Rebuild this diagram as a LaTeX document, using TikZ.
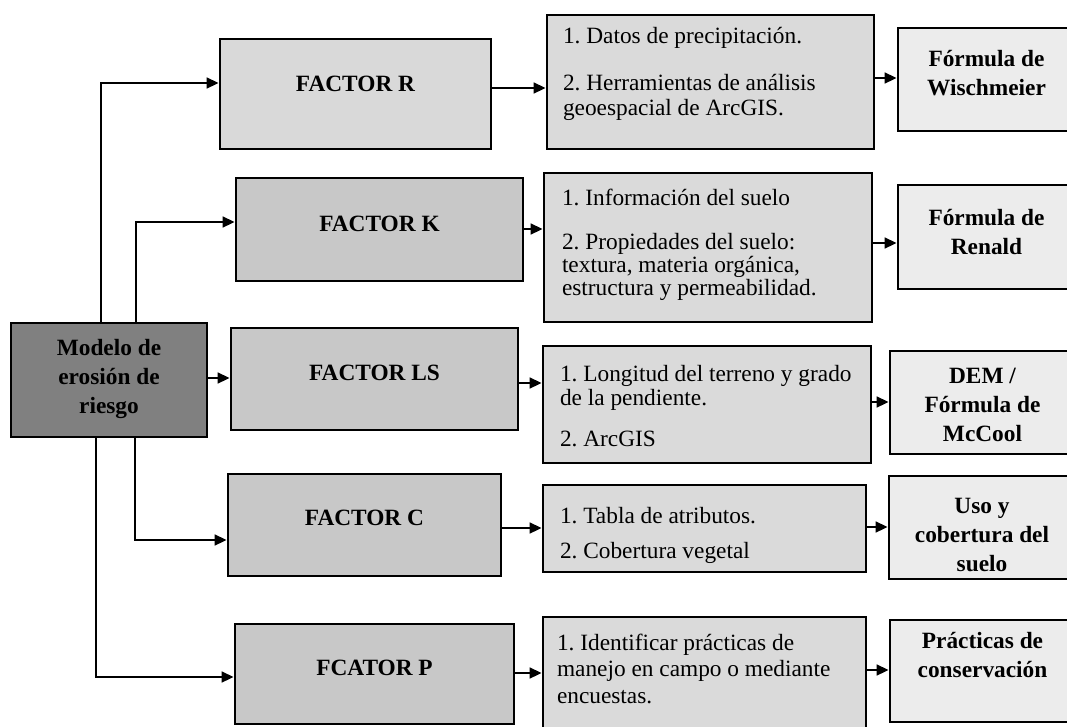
\documentclass[tikz,border=0pt]{standalone}
\usepackage{fontspec}
\setmainfont{Liberation Serif}
\usetikzlibrary{arrows.meta}
\frenchspacing
\definecolor{mainfill}{RGB}{128,128,128}
\definecolor{facfill}{RGB}{200,200,200}
\definecolor{facRfill}{RGB}{217,217,217}
\definecolor{txtfill}{RGB}{218,218,218}
\definecolor{resfill}{RGB}{236,236,236}
\tikzset{
  bx/.style={draw=black, line width=2pt, inner sep=0pt},
  mainbox/.style={bx, fill=mainfill},
  facbox/.style={bx, fill=facfill},
  facboxR/.style={bx, fill=facRfill},
  txtbox/.style={bx, fill=txtfill},
  resbox/.style={bx, fill=resfill},
  conn/.style={line width=1.8pt, -{Triangle[length=9pt,width=8pt]}},
  reg/.style={inner sep=0pt, outer sep=0pt, align=left, font=\fontsize{17.5pt}{18.75pt}\selectfont\frenchspacing},
  bld/.style={inner sep=0pt, outer sep=0pt, align=center, font=\fontsize{17.5pt}{21.75pt}\selectfont\bfseries\frenchspacing},
}
\newcommand\boxat[6]{\node[#2, minimum width={(#5-#3)*0.75pt}, minimum height={(#6-#4)*0.75pt}] (#1) at ({(#3+#5)/2},{(#4+#6)/2}) {};}
\begin{document}
\begin{tikzpicture}[x=0.75pt, y=-0.75pt]
\useasboundingbox (0,0) rectangle (1067,726);
\clip (0,0) rectangle (1067,726);

% boxes
\boxat{main}{mainbox}{11}{323}{207}{437}
\boxat{fR}{facboxR}{220}{39}{491}{149}
\boxat{fK}{facbox}{236}{178}{523}{281}
\boxat{fLS}{facbox}{231}{328}{518}{430}
\boxat{fC}{facbox}{228}{474}{501}{576}
\boxat{fP}{facbox}{235}{624}{514}{724}
\boxat{tR}{txtbox}{547}{15}{874}{149}
\boxat{tK}{txtbox}{544}{173}{872}{322}
\boxat{tLS}{txtbox}{543}{346}{871}{463}
\boxat{tC}{txtbox}{543}{485}{866}{572}
\boxat{tP}{txtbox}{543}{617}{866}{732}
\boxat{rR}{resbox}{898}{28}{1075}{131}
\boxat{rK}{resbox}{898}{185}{1075}{289}
\boxat{rLS}{resbox}{890}{351}{1075}{454}
\boxat{rC}{resbox}{889}{476}{1075}{579}
\boxat{rP}{resbox}{890}{620}{1075}{722}

% labels
\node[bld, anchor=north] (mainl) at (109,331.7) {\rule{0pt}{1em}Modelo de\\erosión de\\riesgo};
\node[bld, anchor=base] (fRl) at (355.5,91) {FACTOR R};
\node[bld, anchor=base] (fKl) at (379.5,231) {FACTOR K};
\node[bld, anchor=base] (fLSl) at (374.5,380) {FACTOR LS};
\node[bld, anchor=base] (fCl) at (364.5,525) {FACTOR C};
\node[bld, anchor=base] (fPl) at (374.5,675) {FCATOR P};

\node[reg, anchor=north west] (tRl) at (563,19.7) {\rule{0pt}{1em}1. Datos de precipitación.\\[16.5pt]2. Herramientas de análisis\\geoespacial de ArcGIS.};
\node[reg, anchor=north west] (tKl) at (562,181.7) {\rule{0pt}{1em}1. Información del suelo\\[14.25pt]2. Propiedades del suelo:\\[-1.5pt]textura, materia orgánica,\\[-1.5pt]estructura y permeabilidad.};
\node[reg, anchor=north west] (tLSl) at (560,357.7) {\rule{0pt}{1em}1. Longitud del terreno y grado\\[-0.75pt]de la pendiente.\\[12pt]2. ArcGIS};
\node[reg, anchor=north west] (tCl) at (560,499.7) {\rule{0pt}{1em}1. Tabla de atributos.\\[7.5pt]2. Cobertura vegetal};
\node[reg, anchor=north west] (tPl) at (557,626.7) {\rule{0pt}{1em}1. Identificar prácticas de\\[0.75pt]manejo en campo o mediante\\[1.5pt]encuestas.};

\node[bld, anchor=north] (rRl) at (986.5,42.7) {\rule{0pt}{1em}Fórmula de\\Wischmeier};
\node[bld, anchor=north] (rKl) at (986.5,201.7) {\rule{0pt}{1em}Fórmula de\\Renald};
\node[bld, anchor=north] (rLSl) at (982.5,359.7) {\rule{0pt}{1em}DEM /\\Fórmula de\\McCool};
\node[bld, anchor=north] (rCl) at (982,489.7) {\rule{0pt}{1em}Uso y\\cobertura del\\suelo};
\node[bld, anchor=north] (rPl) at (982.5,624.7) {\rule{0pt}{1em}Prácticas de\\conservación};

% junction coordinates
\coordinate (jR) at (101,83);
\coordinate (jK) at (136,222);
\coordinate (jLS) at (0,378);
\coordinate (jC) at (135,540);
\coordinate (jP) at (96,677);
\coordinate (aR) at (0,88);
\coordinate (aK) at (0,229);
\coordinate (aLS) at (0,383);
\coordinate (aC) at (0,528);
\coordinate (aP) at (0,673);
\coordinate (bR) at (0,78);
\coordinate (bK) at (0,243);
\coordinate (bLS) at (0,402);
\coordinate (bC) at (0,527);
\coordinate (bP) at (0,670);

% connectors from the model box
\draw[conn] (main.north -| jR) |- (fR.west |- jR);
\draw[conn] (main.north -| jK) |- (fK.west |- jK);
\draw[conn] (main.east |- jLS) -- (fLS.west |- jLS);
\draw[conn] (main.south -| jC) |- (fC.west |- jC);
\draw[conn] (main.south -| jP) |- (fP.west |- jP);

% factor -> text
\draw[conn] (fR.east |- aR) -- (tR.west |- aR);
\draw[conn] (fK.east |- aK) -- (tK.west |- aK);
\draw[conn] (fLS.east |- aLS) -- (tLS.west |- aLS);
\draw[conn] (fC.east |- aC) -- (tC.west |- aC);
\draw[conn] (fP.east |- aP) -- (tP.west |- aP);

% text -> result
\draw[conn] (tR.east |- bR) -- (rR.west |- bR);
\draw[conn] (tK.east |- bK) -- (rK.west |- bK);
\draw[conn] (tLS.east |- bLS) -- (rLS.west |- bLS);
\draw[conn] (tC.east |- bC) -- (rC.west |- bC);
\draw[conn] (tP.east |- bP) -- (rP.west |- bP);
\end{tikzpicture}
\end{document}
